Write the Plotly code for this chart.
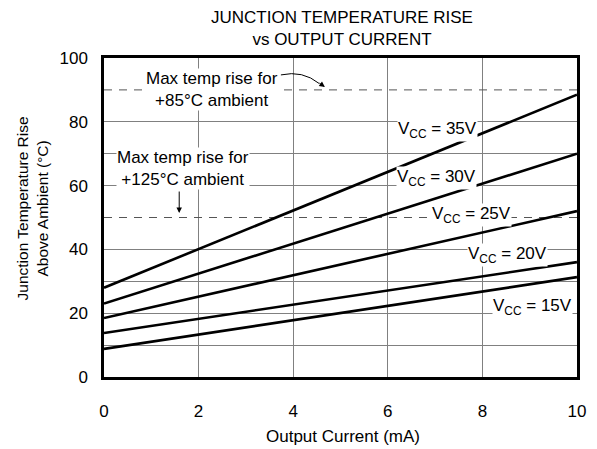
import plotly.graph_objects as go

current = [0, 10]
vcc_labels = ["V<sub>CC</sub> = 35V", "V<sub>CC</sub> = 30V", "V<sub>CC</sub> = 25V",
              "V<sub>CC</sub> = 20V", "V<sub>CC</sub> = 15V"]
rise_35 = [28, 88.5]
rise_30 = [23, 70]
rise_25 = [18.5, 52]
rise_20 = [13.8, 36]
rise_15 = [8.8, 31.3]
series = [rise_35, rise_30, rise_25, rise_20, rise_15]
label_x = [7.05, 7.04, 7.76, 8.54, 9.05]
label_y = [77.4, 62.4, 50.8, 38.2, 22.0]
limit_85 = 90
limit_125 = 50
x_ticks = [0, 2, 4, 6, 8, 10]
y_ticks = [0, 20, 40, 60, 80, 100]
y_minor_grid = [10, 30, 70]

FONT = "Liberation Sans, Arial, sans-serif"
FS = 17
fig = go.Figure()

for lim in (limit_85, limit_125):
    fig.add_trace(go.Scatter(x=current, y=[lim, lim], mode="lines",
                             line=dict(color="#555555", width=1, dash="8px,7px"),
                             showlegend=False, hoverinfo="skip"))

for s in series:
    fig.add_trace(go.Scatter(x=current, y=s, mode="lines",
                             line=dict(color="black", width=2.6),
                             showlegend=False, hoverinfo="skip"))

annos = []
for t, x, y in zip(vcc_labels, label_x, label_y):
    annos.append(dict(x=x, y=y, xref="x", yref="y", text=t, showarrow=False,
                      bgcolor="white", font=dict(size=FS, color="black", family=FONT),
                      borderpad=0))

annos.append(dict(x=2.28, y=90, xref="x", yref="y",
                  text="Max temp rise for<br>+85°C ambient", showarrow=False,
                  bgcolor="white", font=dict(size=FS, color="black", family=FONT),
                  borderpad=0))
annos.append(dict(x=1.68, y=65.4, xref="x", yref="y",
                  text="Max temp rise for<br>+125°C ambient", showarrow=False,
                  bgcolor="white", font=dict(size=FS, color="black", family=FONT),
                  borderpad=0))
# arrow heads
annos.append(dict(x=4.67, y=90.9, xref="x", yref="y", ax=-7, ay=-5, text="",
                  showarrow=True, arrowhead=2, arrowsize=1.1, arrowwidth=1,
                  arrowcolor="black"))
annos.append(dict(x=1.59, y=51.4, xref="x", yref="y", ax=0, ay=-23, text="",
                  showarrow=True, arrowhead=2, arrowsize=1.1, arrowwidth=1,
                  arrowcolor="black"))
# titles
annos.append(dict(x=0.503, y=1.0925, xref="paper", yref="paper",
                  text="JUNCTION TEMPERATURE RISE<br>vs OUTPUT CURRENT",
                  showarrow=False, xanchor="center", yanchor="middle",
                  font=dict(size=FS, color="black", family=FONT)))
annos.append(dict(x=0.505, y=-0.188, xref="paper", yref="paper",
                  text="Output Current (mA)",
                  showarrow=False, xanchor="center", yanchor="middle",
                  font=dict(size=FS, color="black", family=FONT)))
annos.append(dict(x=-0.151, y=0.527, xref="paper", yref="paper",
                  text="Junction Temperature Rise<br>Above Ambient (°C)", textangle=-90,
                  showarrow=False, xanchor="center", yanchor="middle",
                  font=dict(size=15.5, color="black", family=FONT)))

shapes = [dict(type="path", xref="x", yref="y",
               path="M 3.74,94.7 Q 4.2,96.2 4.55,92.0",
               line=dict(color="black", width=1))]

fig.update_layout(
    width=589, height=441,
    margin=dict(l=96, r=20, t=50, b=72),
    paper_bgcolor="white", plot_bgcolor="white",
    annotations=annos, shapes=shapes,
    font=dict(family=FONT, size=FS, color="black"),
)
fig.update_xaxes(range=[0, 10], tickvals=x_ticks, showgrid=True, gridcolor="#808080",
                 gridwidth=1, showline=True, linecolor="black", linewidth=2.5, mirror=True,
                 zeroline=False, ticks="", ticklabelstandoff=17,
                 tickfont=dict(size=FS, family=FONT))
fig.update_yaxes(range=[0, 100], tickvals=y_ticks, showgrid=True, gridcolor="#808080",
                 gridwidth=1, showline=True, linecolor="black", linewidth=2.5, mirror=True,
                 zeroline=False, ticks="", ticklabelstandoff=10,
                 minor=dict(tickvals=y_minor_grid, showgrid=True, gridcolor="#808080", gridwidth=1),
                 tickfont=dict(size=FS, family=FONT))

fig.write_html("out.html")
